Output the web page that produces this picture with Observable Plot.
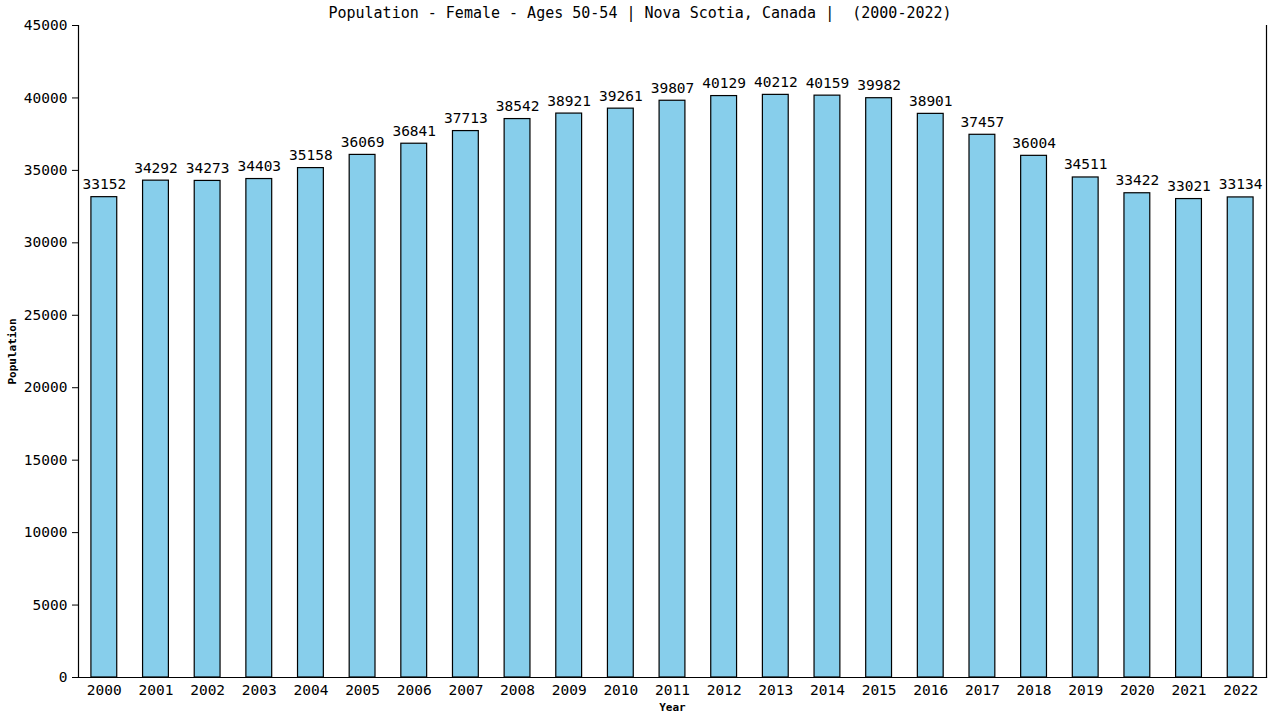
<!DOCTYPE html>
<html>
<head>
<meta charset="utf-8">
<script src="https://cdn.jsdelivr.net/npm/d3@7"></script>
<script src="https://cdn.jsdelivr.net/npm/@observablehq/plot@0.6"></script>
<style>
  html, body { margin: 0; padding: 0; background: #fff; }
  #wrap { position: relative; width: 1280px; height: 720px; }
  #title { position: absolute; top: 4px; left: 0; width: 1280px; text-align: center;
    font-family: "DejaVu Sans Mono", monospace; font-size: 15px; color: #000; }
</style>
</head>
<body>
<div id="wrap">
  <div id="title">Population - Female - Ages 50-54 | Nova Scotia, Canada |&nbsp; (2000-2022)</div>
  <div id="chart"></div>
</div>
<script>
const years = ["2000","2001","2002","2003","2004","2005","2006","2007","2008","2009","2010","2011","2012","2013","2014","2015","2016","2017","2018","2019","2020","2021","2022"];
const population = [33152,34292,34273,34403,35158,36069,36841,37713,38542,38921,39261,39807,40129,40212,40159,39982,38901,37457,36004,34511,33422,33021,33134];
const yTicks = [0,5000,10000,15000,20000,25000,30000,35000,40000,45000];

const data = years.map((y, i) => ({year: y, value: population[i]}));

const chart = Plot.plot({
  width: 1280,
  height: 720,
  marginLeft: 78,
  marginRight: 14,
  marginTop: 25,
  marginBottom: 43,
  style: {fontFamily: "DejaVu Sans Mono, monospace", fontSize: "14.5px", color: "#000", background: "#fff"},
  x: {domain: years, paddingInner: 0.5, paddingOuter: 0.25, round: false, label: null},
  y: {domain: [0, 45000], label: null},
  marks: [
    Plot.barY(data, {x: "year", y: "value", fill: "#87CEEB", stroke: "#000", strokeWidth: 1.2}),
    Plot.text(data, {x: "year", y: "value", text: d => String(d.value), lineAnchor: "bottom", dy: -8, fontSize: 14.5, fill: "#000"}),
    Plot.axisY({ticks: yTicks, tickFormat: d => String(d), tickSize: 6, tickPadding: 5, label: null, fontSize: 14.5, stroke: "#000"}),
    Plot.axisX({tickSize: 0, tickPadding: 7, label: null, fontSize: 14.5}),
    Plot.frame({anchor: "left", stroke: "#000", strokeWidth: 1.2}),
    Plot.frame({anchor: "right", stroke: "#000", strokeWidth: 1.2}),
    Plot.frame({anchor: "bottom", stroke: "#000", strokeWidth: 1.2}),
    Plot.text(["Population"], {frameAnchor: "left", textAnchor: "middle", dx: -66, rotate: -90, text: d => d, fontSize: 11, fontWeight: "bold", fill: "#000"}),
    Plot.text(["Year"], {frameAnchor: "bottom", textAnchor: "middle", dy: 33, text: d => d, fontSize: 11, fontWeight: "bold", fill: "#000"})
  ]
});
document.getElementById("chart").appendChild(chart);
</script>
</body>
</html>
